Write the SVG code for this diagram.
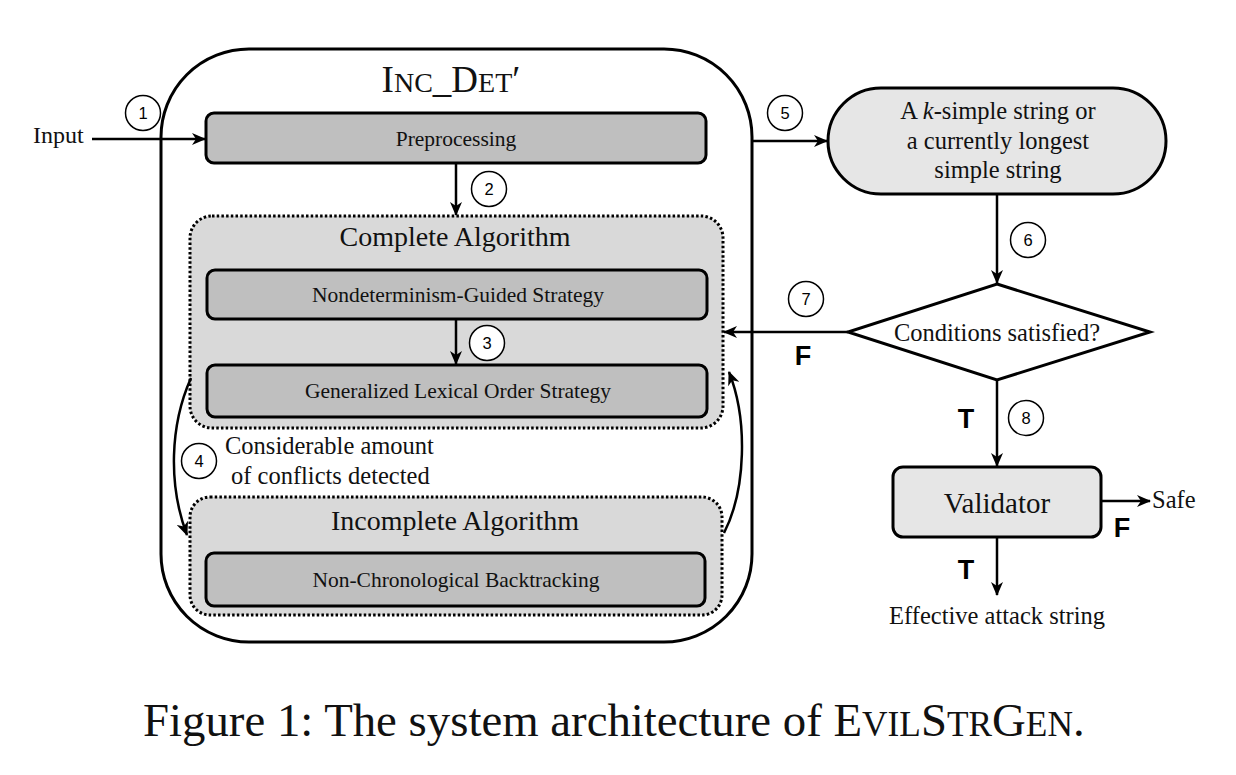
<svg xmlns="http://www.w3.org/2000/svg" width="1236" height="775" viewBox="0 0 1236 775">
<defs>
<marker id="arr" viewBox="0 0 14 12" refX="13" refY="6" markerWidth="14" markerHeight="12" markerUnits="userSpaceOnUse" orient="auto">
<path d="M0,0 L14,6 L0,12 L4,6 z" fill="#000"/>
</marker>
<style>
.serif{font-family:"Liberation Serif","Times New Roman",serif;fill:#111;}
.sans{font-family:"Liberation Sans",Arial,sans-serif;fill:#000;}
.bold{font-family:"Liberation Sans",Arial,sans-serif;font-weight:bold;font-size:27px;fill:#000;}
.dark{fill:#bfbfbf;stroke:#000;stroke-width:3;}
.light{fill:#e6e6e6;stroke:#000;stroke-width:3;}
.dotted{fill:#d9d9d9;stroke:#000;stroke-width:3;stroke-dasharray:2.5 2.2;}
.num{fill:#fff;stroke:#000;stroke-width:1.5;}
.line{fill:none;stroke:#000;stroke-width:2.5;}
</style>
</defs>
<rect width="1236" height="775" fill="#fff"/>

<g id="outer">
<rect x="161" y="49" width="591" height="593" rx="88" ry="88" fill="none" stroke="#000" stroke-width="3"/>
<text class="serif" x="451" y="92" text-anchor="middle" font-size="37"><tspan>I</tspan><tspan font-size="28">NC</tspan><tspan>_D</tspan><tspan font-size="28">ET</tspan><tspan>′</tspan></text>
</g>

<g id="preprocessing">
<rect class="dark" x="206" y="113" width="500" height="50" rx="8"/>
<text class="serif" x="456" y="146" text-anchor="middle" font-size="21.5">Preprocessing</text>
</g>

<g id="complete">
<rect class="dotted" x="190" y="216" width="533" height="212" rx="22"/>
<text class="serif" x="455" y="246" text-anchor="middle" font-size="28">Complete Algorithm</text>
</g>

<g id="nondet">
<rect class="dark" x="207" y="270" width="500" height="49" rx="8"/>
<text class="serif" x="458" y="302" text-anchor="middle" font-size="21.5">Nondeterminism-Guided Strategy</text>
</g>

<g id="lexical">
<rect class="dark" x="207" y="365" width="500" height="52" rx="8"/>
<text class="serif" x="458" y="398" text-anchor="middle" font-size="21.5">Generalized Lexical Order Strategy</text>
</g>

<g id="incomplete">
<rect class="dotted" x="190" y="497" width="532" height="118" rx="20"/>
<text class="serif" x="455" y="530" text-anchor="middle" font-size="28">Incomplete Algorithm</text>
</g>

<g id="backtracking">
<rect class="dark" x="206" y="553" width="499" height="53" rx="8"/>
<text class="serif" x="456" y="587" text-anchor="middle" font-size="21.5">Non-Chronological Backtracking</text>
</g>

<g id="candidate">
<rect class="light" x="828" y="88" width="338" height="106" rx="53"/>
<text class="serif" x="998" y="119" text-anchor="middle" font-size="24.5">A <tspan font-style="italic">k</tspan>-simple string or</text>
<text class="serif" x="998" y="149" text-anchor="middle" font-size="24.5">a currently longest</text>
<text class="serif" x="998" y="178" text-anchor="middle" font-size="24.5">simple string</text>
</g>

<g id="conditions">
<polygon points="997,284 1150,332 997,380 848,332" fill="#fff" stroke="#000" stroke-width="3"/>
<text class="serif" x="997" y="341" text-anchor="middle" font-size="24.5">Conditions satisfied?</text>
</g>

<g id="validator">
<rect class="light" x="893" y="467" width="208" height="70" rx="10"/>
<text class="serif" x="997" y="513" text-anchor="middle" font-size="29">Validator</text>
</g>

<g id="connectors">
<line class="line" x1="92" y1="139" x2="205" y2="139" marker-end="url(#arr)"/>
<line class="line" x1="456" y1="163" x2="456" y2="215" marker-end="url(#arr)"/>
<line class="line" x1="456" y1="319" x2="456" y2="364" marker-end="url(#arr)"/>
<path class="line" d="M191,378 C170,425 168,485 187,535" marker-end="url(#arr)"/>
<path class="line" d="M724,533 C746,490 748,420 729,372" marker-end="url(#arr)"/>
<line class="line" x1="752" y1="141" x2="827" y2="141" marker-end="url(#arr)"/>
<line class="line" x1="997" y1="194" x2="997" y2="283" marker-end="url(#arr)"/>
<line class="line" x1="848" y1="332" x2="724" y2="332" marker-end="url(#arr)"/>
<line class="line" x1="997" y1="380" x2="997" y2="466" marker-end="url(#arr)"/>
<line class="line" x1="1101" y1="501" x2="1150" y2="501" marker-end="url(#arr)"/>
<line class="line" x1="997" y1="537" x2="997" y2="595" marker-end="url(#arr)"/>
</g>

<g id="labels">
<text class="serif" x="33" y="143" font-size="24">Input</text>
<text class="serif" x="225" y="454" font-size="24.5">Considerable amount</text>
<text class="serif" x="231" y="484" font-size="24.5">of conflicts detected</text>
<text class="serif" x="1152" y="508" font-size="24.5">Safe</text>
<text class="serif" x="997" y="624" text-anchor="middle" font-size="24.5">Effective attack string</text>
<text class="bold" x="803" y="365" text-anchor="middle">F</text>
<text class="bold" x="966" y="428" text-anchor="middle">T</text>
<text class="bold" x="1122" y="537" text-anchor="middle">F</text>
<text class="bold" x="966" y="579" text-anchor="middle">T</text>
</g>

<g id="numbers">
<circle class="num" cx="143" cy="113" r="17.5"/><text class="sans" x="143" y="119" text-anchor="middle" font-size="16.5">1</text>
<circle class="num" cx="489" cy="189" r="17.5"/><text class="sans" x="489" y="195" text-anchor="middle" font-size="16.5">2</text>
<circle class="num" cx="487" cy="343" r="17.5"/><text class="sans" x="487" y="349" text-anchor="middle" font-size="16.5">3</text>
<circle class="num" cx="199" cy="461" r="17.5"/><text class="sans" x="199" y="467" text-anchor="middle" font-size="16.5">4</text>
<circle class="num" cx="785" cy="113" r="17.5"/><text class="sans" x="785" y="119" text-anchor="middle" font-size="16.5">5</text>
<circle class="num" cx="1028" cy="240" r="17.5"/><text class="sans" x="1028" y="246" text-anchor="middle" font-size="16.5">6</text>
<circle class="num" cx="806" cy="299" r="17.5"/><text class="sans" x="806" y="305" text-anchor="middle" font-size="16.5">7</text>
<circle class="num" cx="1026" cy="418" r="17.5"/><text class="sans" x="1026" y="424" text-anchor="middle" font-size="16.5">8</text>
</g>

<g id="caption">
<text class="serif" x="143" y="736" font-size="46.8" fill="#000">Figure 1: The system architecture of E<tspan font-size="35.3">VIL</tspan>S<tspan font-size="35.3">TR</tspan>G<tspan font-size="35.3">EN</tspan>.</text>
</g>
</svg>
